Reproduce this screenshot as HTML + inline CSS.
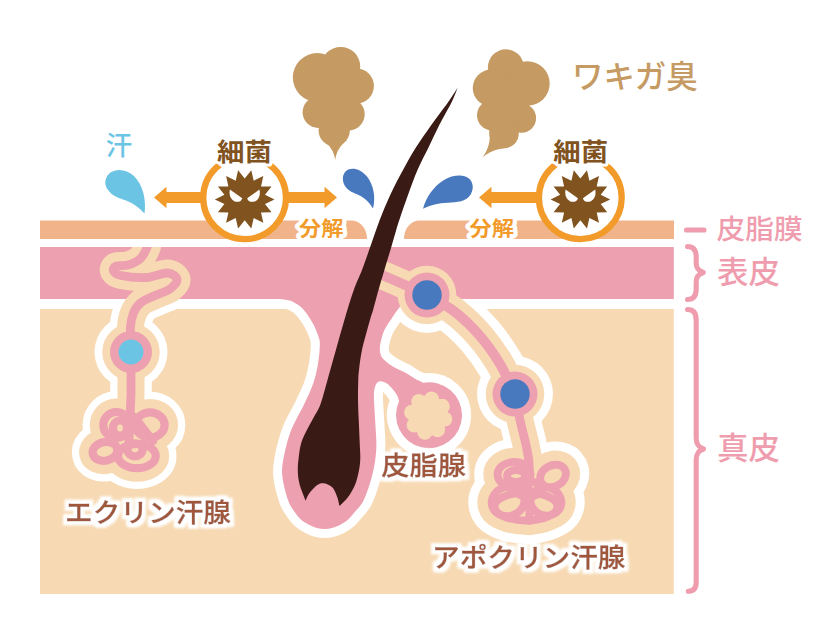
<!DOCTYPE html>
<html lang="ja"><head><meta charset="utf-8"><title>ワキガ臭</title>
<style>
html,body{margin:0;padding:0;background:#fff}
svg{display:block}
text{font-family:"Liberation Sans","Noto Sans CJK JP",sans-serif}
.lbl{font-weight:500;fill:#A0573B;stroke:#A0573B;stroke-width:0.35;filter:url(#glow)}
.bun{font-weight:700;fill:#F29B2B;stroke:#fff;stroke-width:8;stroke-linejoin:round;paint-order:stroke fill}
.saikin{font-weight:700;fill:#80531F;stroke:#fff;stroke-width:6;stroke-linejoin:round;paint-order:stroke fill}
.side{font-weight:500;fill:#EF9DAE}
</style></head><body>
<svg width="840" height="640" viewBox="0 0 840 640">
<rect width="840" height="640" fill="#fff"/>
<defs><filter id="glow" x="-10%" y="-40%" width="120%" height="180%"><feMorphology in="SourceAlpha" operator="dilate" radius="3.7" result="d"/><feGaussianBlur in="d" stdDeviation="0.9" result="b"/><feFlood flood-color="#ffffff" result="f"/><feComposite in="f" in2="b" operator="in" result="o"/><feMerge><feMergeNode in="o"/><feMergeNode in="SourceGraphic"/></feMerge></filter><clipPath id="below"><rect x="0" y="299" width="840" height="341"/></clipPath><clipPath id="skin"><rect x="0" y="247" width="840" height="393"/></clipPath></defs>
<path d="M40 220.5 H351 C360 220.5 367 228 367 239 H40Z" fill="#F0B38A"/><path d="M674 220.5 H420 C411 220.5 404 228 404 239 H674Z" fill="#F0B38A"/><rect x="40" y="309" width="633.8" height="285" fill="#F7DAB4"/><g clip-path="url(#below)"><g fill="#fff" stroke="#fff" stroke-width="18" stroke-linejoin="round" stroke-linecap="round"><path d="M230.0 299.0 C238.3 299.0 268.5 297.9 280.0 299.0 C291.5 300.1 293.7 301.9 299.0 305.6 C304.3 309.3 308.3 316.0 311.6 321.2 C314.9 326.5 317.2 332.7 318.6 336.9 C320.0 341.1 319.9 341.6 319.8 346.2 C319.7 350.9 318.9 358.8 317.8 365.0 C316.7 371.2 315.4 377.1 313.1 383.8 C310.8 390.4 307.4 397.3 303.8 405.0 C300.1 412.7 294.5 421.7 291.2 430.0 C288.0 438.3 285.7 447.5 284.2 455.0 C282.7 462.5 281.6 467.5 282.2 475.0 C282.8 482.5 285.9 493.8 288.0 500.0 C290.1 506.2 292.7 509.1 295.0 512.5 C297.3 515.9 299.4 518.3 302.0 520.5 C304.6 522.7 308.1 524.2 310.6 525.5 C313.1 526.8 314.6 527.4 317.0 528.0 C319.4 528.6 322.2 529.0 324.7 529.0 C327.2 529.0 329.7 528.6 332.0 528.0 C334.3 527.4 336.2 526.8 338.8 525.5 C341.2 524.2 344.4 522.7 347.0 520.5 C349.6 518.3 351.6 515.9 354.4 512.5 C357.2 509.1 360.8 506.2 363.8 500.0 C366.7 493.8 370.2 483.3 372.3 475.0 C374.4 466.7 375.7 458.2 376.2 450.0 C376.8 441.8 375.9 434.3 375.5 426.0 C375.1 417.7 374.2 406.0 374.0 400.0 C373.8 394.0 373.9 392.8 374.3 390.0 C374.7 387.2 375.6 385.0 376.5 383.5 C377.4 382.0 378.8 381.5 380.0 381.2 C381.2 381.0 382.5 381.4 384.0 382.0 C385.5 382.6 386.7 383.0 388.8 385.0 C390.8 387.0 394.5 391.0 396.2 393.8 C398.0 396.5 398.6 400.0 399.1 401.3 A33 33 0 1 0 423.3 382.7 C421.9 382.0 418.0 380.5 415.0 378.8 C412.0 377.0 408.8 374.6 405.0 372.5 C401.2 370.4 396.2 368.5 392.5 366.2 C388.8 364.0 385.1 361.2 383.0 358.8 C380.9 356.2 380.4 354.0 380.0 351.2 C379.6 348.5 379.9 346.0 380.6 342.5 C381.3 339.0 382.5 334.1 384.4 330.0 C386.3 325.9 389.6 321.7 392.0 318.0 C394.4 314.3 396.3 311.2 399.0 308.0 C401.7 304.8 402.8 301.7 408.0 299.0 C413.2 296.3 426.3 293.2 430.0 292.0 L230 292Z"/></g><g fill="none" stroke="#fff" stroke-width="41.5" stroke-linecap="round" stroke-linejoin="round"><path d="M148.0 240.0 C147.8 241.2 148.3 244.3 147.0 247.5 C145.7 250.7 143.2 256.1 140.0 259.0 C136.8 261.9 132.0 263.8 128.0 265.0 C124.0 266.2 118.4 265.0 116.0 266.0 C113.6 267.0 112.7 269.4 113.5 271.0 C114.3 272.6 115.6 274.4 121.0 275.5 C126.4 276.6 138.2 277.9 146.0 277.5 C153.8 277.1 162.3 272.7 167.5 273.0 C172.7 273.3 176.6 276.8 177.0 279.5 C177.4 282.2 173.7 286.3 170.0 289.0 C166.3 291.7 159.8 293.2 155.0 295.5 C150.2 297.8 144.6 299.6 141.0 302.5 C137.4 305.4 135.2 308.9 133.5 313.0 C131.8 317.1 130.9 320.5 130.5 327.0 C130.1 333.5 130.9 347.8 131.0 352.0 L131 395 L129 440"/><path d="M380.0 274.0 C384.2 275.8 397.2 281.5 405.0 285.0 C412.8 288.5 418.7 290.5 427.0 295.0 C435.3 299.5 446.2 305.2 455.0 312.0 C463.8 318.8 472.5 327.3 480.0 336.0 C487.5 344.7 494.2 354.3 500.0 364.0 C505.8 373.7 512.5 389.0 515.0 394.0" stroke-width="46.5"/><path d="M515.0 394.0 C515.8 398.3 518.2 411.5 520.0 420.0 C521.8 428.5 524.5 438.0 526.0 445.0 C527.5 452.0 528.5 457.0 529.0 462.0 C529.5 467.0 529.0 472.8 529.0 475.0"/><g fill="#fff" ><ellipse cx="116.3" cy="425.0" rx="13.0" ry="13.0" transform="rotate(0 116.3 425.0)"/><ellipse cx="120.0" cy="428.0" rx="7.0" ry="7.5" transform="rotate(0 120.0 428.0)"/><ellipse cx="150.0" cy="425.0" rx="14.6" ry="12.6" transform="rotate(0 150.0 425.0)"/><ellipse cx="105.0" cy="451.3" rx="12.5" ry="9.3" transform="rotate(-12 105.0 451.3)"/><ellipse cx="136.9" cy="456.0" rx="18.8" ry="12.2" transform="rotate(0 136.9 456.0)"/><ellipse cx="135.0" cy="449.8" rx="7.5" ry="6.5" transform="rotate(0 135.0 449.8)"/><path d="M134.5 417 L153 441"/><path d="M129.3 420 L128.75 444"/></g><g fill="#fff" stroke-width="46.5"><ellipse cx="514.0" cy="474.5" rx="16.5" ry="12.5" transform="rotate(0 514.0 474.5)"/><ellipse cx="516.0" cy="476.0" rx="9.0" ry="6.0" transform="rotate(0 516.0 476.0)"/><ellipse cx="553.0" cy="476.0" rx="13.5" ry="10.5" transform="rotate(-28 553.0 476.0)"/><ellipse cx="508.0" cy="501.5" rx="16.5" ry="14.5" transform="rotate(-15 508.0 501.5)"/><ellipse cx="546.0" cy="501.5" rx="15.5" ry="14.0" transform="rotate(15 546.0 501.5)"/><ellipse cx="526.0" cy="506.5" rx="31.5" ry="14.0" transform="rotate(0 526.0 506.5)"/><ellipse cx="528.0" cy="489.0" rx="12.0" ry="8.0" transform="rotate(0 528.0 489.0)"/><path d="M528 460 L529.5 521"/></g></g><g fill="#fff"><circle cx="131" cy="352" r="36.5"/><circle cx="427" cy="295" r="38"/><circle cx="515" cy="394" r="38"/></g></g><g fill="#EDA0AF"><rect x="40" y="247" width="633.8" height="52"/><path d="M230.0 299.0 C238.3 299.0 268.5 297.9 280.0 299.0 C291.5 300.1 293.7 301.9 299.0 305.6 C304.3 309.3 308.3 316.0 311.6 321.2 C314.9 326.5 317.2 332.7 318.6 336.9 C320.0 341.1 319.9 341.6 319.8 346.2 C319.7 350.9 318.9 358.8 317.8 365.0 C316.7 371.2 315.4 377.1 313.1 383.8 C310.8 390.4 307.4 397.3 303.8 405.0 C300.1 412.7 294.5 421.7 291.2 430.0 C288.0 438.3 285.7 447.5 284.2 455.0 C282.7 462.5 281.6 467.5 282.2 475.0 C282.8 482.5 285.9 493.8 288.0 500.0 C290.1 506.2 292.7 509.1 295.0 512.5 C297.3 515.9 299.4 518.3 302.0 520.5 C304.6 522.7 308.1 524.2 310.6 525.5 C313.1 526.8 314.6 527.4 317.0 528.0 C319.4 528.6 322.2 529.0 324.7 529.0 C327.2 529.0 329.7 528.6 332.0 528.0 C334.3 527.4 336.2 526.8 338.8 525.5 C341.2 524.2 344.4 522.7 347.0 520.5 C349.6 518.3 351.6 515.9 354.4 512.5 C357.2 509.1 360.8 506.2 363.8 500.0 C366.7 493.8 370.2 483.3 372.3 475.0 C374.4 466.7 375.7 458.2 376.2 450.0 C376.8 441.8 375.9 434.3 375.5 426.0 C375.1 417.7 374.2 406.0 374.0 400.0 C373.8 394.0 373.9 392.8 374.3 390.0 C374.7 387.2 375.6 385.0 376.5 383.5 C377.4 382.0 378.8 381.5 380.0 381.2 C381.2 381.0 382.5 381.4 384.0 382.0 C385.5 382.6 386.7 383.0 388.8 385.0 C390.8 387.0 394.5 391.0 396.2 393.8 C398.0 396.5 398.6 400.0 399.1 401.3 A33 33 0 1 0 423.3 382.7 C421.9 382.0 418.0 380.5 415.0 378.8 C412.0 377.0 408.8 374.6 405.0 372.5 C401.2 370.4 396.2 368.5 392.5 366.2 C388.8 364.0 385.1 361.2 383.0 358.8 C380.9 356.2 380.4 354.0 380.0 351.2 C379.6 348.5 379.9 346.0 380.6 342.5 C381.3 339.0 382.5 334.1 384.4 330.0 C386.3 325.9 389.6 321.7 392.0 318.0 C394.4 314.3 396.3 311.2 399.0 308.0 C401.7 304.8 402.8 301.7 408.0 299.0 C413.2 296.3 426.3 293.2 430.0 292.0 L230 292Z"/></g><g fill="#F7DAB4"><circle cx="428.2" cy="415.7" r="19.7"/><circle cx="444.7" cy="419.0" r="7.6"/><circle cx="437.5" cy="429.7" r="7.6"/><circle cx="424.9" cy="432.2" r="7.6"/><circle cx="414.2" cy="425.0" r="7.6"/><circle cx="411.7" cy="412.4" r="7.6"/><circle cx="418.9" cy="401.7" r="7.6"/><circle cx="431.5" cy="399.2" r="7.6"/><circle cx="442.2" cy="406.4" r="7.6"/></g><g clip-path="url(#skin)"><g fill="none" stroke="#F7DAB4" stroke-width="27" stroke-linecap="round" stroke-linejoin="round"><path d="M148.0 240.0 C147.8 241.2 148.3 244.3 147.0 247.5 C145.7 250.7 143.2 256.1 140.0 259.0 C136.8 261.9 132.0 263.8 128.0 265.0 C124.0 266.2 118.4 265.0 116.0 266.0 C113.6 267.0 112.7 269.4 113.5 271.0 C114.3 272.6 115.6 274.4 121.0 275.5 C126.4 276.6 138.2 277.9 146.0 277.5 C153.8 277.1 162.3 272.7 167.5 273.0 C172.7 273.3 176.6 276.8 177.0 279.5 C177.4 282.2 173.7 286.3 170.0 289.0 C166.3 291.7 159.8 293.2 155.0 295.5 C150.2 297.8 144.6 299.6 141.0 302.5 C137.4 305.4 135.2 308.9 133.5 313.0 C131.8 317.1 130.9 320.5 130.5 327.0 C130.1 333.5 130.9 347.8 131.0 352.0 L131 395 L129 440"/><path d="M380.0 274.0 C384.2 275.8 397.2 281.5 405.0 285.0 C412.8 288.5 418.7 290.5 427.0 295.0 C435.3 299.5 446.2 305.2 455.0 312.0 C463.8 318.8 472.5 327.3 480.0 336.0 C487.5 344.7 494.2 354.3 500.0 364.0 C505.8 373.7 512.5 389.0 515.0 394.0" stroke-width="28.5"/><path d="M515.0 394.0 C515.8 398.3 518.2 411.5 520.0 420.0 C521.8 428.5 524.5 438.0 526.0 445.0 C527.5 452.0 528.5 457.0 529.0 462.0 C529.5 467.0 529.0 472.8 529.0 475.0"/><g fill="#F7DAB4" ><ellipse cx="116.3" cy="425.0" rx="13.0" ry="13.0" transform="rotate(0 116.3 425.0)"/><ellipse cx="120.0" cy="428.0" rx="7.0" ry="7.5" transform="rotate(0 120.0 428.0)"/><ellipse cx="150.0" cy="425.0" rx="14.6" ry="12.6" transform="rotate(0 150.0 425.0)"/><ellipse cx="105.0" cy="451.3" rx="12.5" ry="9.3" transform="rotate(-12 105.0 451.3)"/><ellipse cx="136.9" cy="456.0" rx="18.8" ry="12.2" transform="rotate(0 136.9 456.0)"/><ellipse cx="135.0" cy="449.8" rx="7.5" ry="6.5" transform="rotate(0 135.0 449.8)"/><path d="M134.5 417 L153 441"/><path d="M129.3 420 L128.75 444"/></g><g fill="#F7DAB4" stroke-width="28.5"><ellipse cx="514.0" cy="474.5" rx="16.5" ry="12.5" transform="rotate(0 514.0 474.5)"/><ellipse cx="516.0" cy="476.0" rx="9.0" ry="6.0" transform="rotate(0 516.0 476.0)"/><ellipse cx="553.0" cy="476.0" rx="13.5" ry="10.5" transform="rotate(-28 553.0 476.0)"/><ellipse cx="508.0" cy="501.5" rx="16.5" ry="14.5" transform="rotate(-15 508.0 501.5)"/><ellipse cx="546.0" cy="501.5" rx="15.5" ry="14.0" transform="rotate(15 546.0 501.5)"/><ellipse cx="526.0" cy="506.5" rx="31.5" ry="14.0" transform="rotate(0 526.0 506.5)"/><ellipse cx="528.0" cy="489.0" rx="12.0" ry="8.0" transform="rotate(0 528.0 489.0)"/><path d="M528 460 L529.5 521"/></g></g><g fill="#F7DAB4"><circle cx="131" cy="352" r="28.75"/><circle cx="427" cy="295" r="29.3"/><circle cx="515" cy="394" r="29.3"/></g><g fill="none" stroke="#EDA0AF" stroke-width="8.8" stroke-linecap="round" stroke-linejoin="round"><path d="M148.0 240.0 C147.8 241.2 148.3 244.3 147.0 247.5 C145.7 250.7 143.2 256.1 140.0 259.0 C136.8 261.9 132.0 263.8 128.0 265.0 C124.0 266.2 118.4 265.0 116.0 266.0 C113.6 267.0 112.7 269.4 113.5 271.0 C114.3 272.6 115.6 274.4 121.0 275.5 C126.4 276.6 138.2 277.9 146.0 277.5 C153.8 277.1 162.3 272.7 167.5 273.0 C172.7 273.3 176.6 276.8 177.0 279.5 C177.4 282.2 173.7 286.3 170.0 289.0 C166.3 291.7 159.8 293.2 155.0 295.5 C150.2 297.8 144.6 299.6 141.0 302.5 C137.4 305.4 135.2 308.9 133.5 313.0 C131.8 317.1 130.9 320.5 130.5 327.0 C130.1 333.5 130.9 347.8 131.0 352.0 L131 395 L129 440"/><path d="M380.0 274.0 C384.2 275.8 397.2 281.5 405.0 285.0 C412.8 288.5 418.7 290.5 427.0 295.0 C435.3 299.5 446.2 305.2 455.0 312.0 C463.8 318.8 472.5 327.3 480.0 336.0 C487.5 344.7 494.2 354.3 500.0 364.0 C505.8 373.7 512.5 389.0 515.0 394.0" stroke-width="10"/><path d="M515.0 394.0 C515.8 398.3 518.2 411.5 520.0 420.0 C521.8 428.5 524.5 438.0 526.0 445.0 C527.5 452.0 528.5 457.0 529.0 462.0 C529.5 467.0 529.0 472.8 529.0 475.0"/><g  stroke-width="8.2"><ellipse cx="116.3" cy="425.0" rx="13.0" ry="13.0" transform="rotate(0 116.3 425.0)"/><ellipse cx="120.0" cy="428.0" rx="7.0" ry="7.5" transform="rotate(0 120.0 428.0)"/><ellipse cx="150.0" cy="425.0" rx="14.6" ry="12.6" transform="rotate(0 150.0 425.0)"/><ellipse cx="105.0" cy="451.3" rx="12.5" ry="9.3" transform="rotate(-12 105.0 451.3)"/><ellipse cx="136.9" cy="456.0" rx="18.8" ry="12.2" transform="rotate(0 136.9 456.0)"/><ellipse cx="135.0" cy="449.8" rx="7.5" ry="6.5" transform="rotate(0 135.0 449.8)"/><path d="M134.5 417 L153 441"/><path d="M129.3 420 L128.75 444"/></g><g  stroke-width="7.799999999999999"><ellipse cx="514.0" cy="474.5" rx="16.5" ry="12.5" transform="rotate(0 514.0 474.5)"/><ellipse cx="516.0" cy="476.0" rx="9.0" ry="6.0" transform="rotate(0 516.0 476.0)"/><ellipse cx="553.0" cy="476.0" rx="13.5" ry="10.5" transform="rotate(-28 553.0 476.0)"/><ellipse cx="508.0" cy="501.5" rx="16.5" ry="14.5" transform="rotate(-15 508.0 501.5)"/><ellipse cx="546.0" cy="501.5" rx="15.5" ry="14.0" transform="rotate(15 546.0 501.5)"/><ellipse cx="526.0" cy="506.5" rx="31.5" ry="14.0" transform="rotate(0 526.0 506.5)"/><ellipse cx="528.0" cy="489.0" rx="12.0" ry="8.0" transform="rotate(0 528.0 489.0)"/><path d="M528 460 L529.5 521"/></g></g><g fill="#EDA0AF"><circle cx="131" cy="352" r="21"/><circle cx="427" cy="295" r="22.5"/><circle cx="515" cy="394" r="22.5"/></g></g><circle cx="131" cy="352" r="12.5" fill="#6CC4E5"/><circle cx="427" cy="295" r="14.7" fill="#4878BE"/><circle cx="515" cy="394" r="14.7" fill="#4878BE"/><path d="M457.6 87.7 C456.0 90.2 452.3 96.3 447.9 102.5 C443.5 108.7 436.6 117.5 431.3 125.0 C426.0 132.5 420.6 140.0 415.9 147.5 C411.2 155.0 407.3 162.1 403.0 170.0 C398.7 177.9 394.1 186.7 390.2 195.0 C386.3 203.3 382.9 211.7 379.7 220.0 C376.5 228.3 373.8 236.7 370.9 245.0 C367.9 253.3 364.9 262.5 362.0 270.0 C359.1 277.5 356.7 281.7 353.8 290.0 C350.8 298.3 347.4 310.0 344.4 320.0 C341.4 330.0 338.7 340.0 335.9 350.0 C333.1 360.0 330.1 370.8 327.5 380.0 C324.9 389.2 322.6 398.7 320.2 405.0 C317.8 411.3 315.6 413.8 313.4 418.0 C311.2 422.2 308.9 426.0 306.9 430.0 C304.9 434.0 302.8 437.8 301.5 442.0 C300.2 446.2 299.6 450.3 299.0 455.0 C298.4 459.7 297.7 465.2 297.8 470.0 C297.9 474.8 298.2 478.9 299.5 484.0 C300.8 489.1 304.6 498.0 305.6 500.8 C306.2 499.6 307.1 496.4 309.0 493.8 C310.9 491.1 314.4 486.9 316.9 485.2 C319.4 483.5 321.3 482.9 323.9 483.3 C326.5 483.7 330.3 485.2 332.5 487.5 C334.7 489.8 336.0 493.8 337.2 496.9 C338.4 500.0 339.1 504.5 339.5 506.0 C340.9 504.5 345.5 500.5 348.1 496.9 C350.7 493.3 353.4 488.8 355.2 484.4 C357.0 480.0 358.1 474.7 359.0 470.3 C359.9 465.9 360.2 462.0 360.3 457.8 C360.4 453.6 360.0 450.3 359.8 445.0 C359.6 439.7 359.3 433.5 359.0 426.0 C358.7 418.5 358.1 407.7 358.0 400.0 C357.9 392.3 358.1 385.0 358.3 380.0 C358.5 375.0 358.4 375.0 359.0 370.0 C359.6 365.0 360.2 358.3 362.0 350.0 C363.8 341.7 368.1 326.7 370.0 320.0 C371.9 313.3 371.7 315.0 373.1 310.0 C374.5 305.0 376.6 296.7 378.5 290.0 C380.4 283.3 382.3 277.0 384.4 270.0 C386.5 263.0 389.0 254.7 391.0 248.0 C393.0 241.3 394.8 235.0 396.2 230.0 C397.8 225.0 398.0 223.8 400.0 218.0 C402.0 212.2 405.1 203.0 408.0 195.0 C410.9 187.0 414.1 177.9 417.5 170.0 C420.9 162.1 424.9 155.0 428.5 147.5 C432.1 140.0 435.5 132.5 439.3 125.0 C443.1 117.5 448.4 108.7 451.5 102.5 C454.6 96.3 456.6 90.2 457.6 87.7Z" fill="#3A1A15"/><g fill="#C59A63"><circle cx="317.2" cy="77.5" r="24.4"/><circle cx="340.7" cy="66.4" r="19.5"/><circle cx="356.3" cy="86" r="17.6"/><circle cx="318.2" cy="112.3" r="15.6"/><circle cx="348.5" cy="114.2" r="16.2"/><circle cx="334.2" cy="130.5" r="15.6"/><circle cx="335" cy="95" r="25"/><path d="M323 140 C330 146 334 151 335.2 160 C336.6 151 340 146 347 140Z"/><circle cx="505.9" cy="67.3" r="18"/><circle cx="527.4" cy="83.5" r="22.3"/><circle cx="491.25" cy="88" r="18.5"/><circle cx="492.2" cy="115.2" r="15.2"/><circle cx="521.5" cy="118.1" r="14.6"/><circle cx="504" cy="133.5" r="14.8"/><circle cx="508" cy="100" r="22"/><path d="M489.5 128 C491 142 488 150 482.3 157.5 C490 151 497 149 506 148Z"/></g><path d="M144.5 213.5 C146.5 200 143 185 134 176 C127 169.5 117 168 110.5 172.5 C105 176.5 103.5 184 108 190 C112 196 120 198.5 126 200.5 C133 203 139 207.5 144.5 213.5Z" fill="#6CC4E5"/><path d="M373 208.5 C376 197 373.5 185 367 176.5 C360.5 168.5 351 166.5 346 171 C341.5 175 342 183 346.5 188 C350.5 192.5 356.5 193.5 361.5 196.5 C366.5 199.5 370 203.5 373 208.5Z" fill="#4878BE"/><path d="M423 208.8 C426 197 434 186 444 180 C453.5 174.5 465 174 470 179.5 C474.5 184.5 473.5 193.5 467 198.5 C460 203.5 449.5 202 441 203.3 C433.5 204.5 428 206 423 208.8Z" fill="#4878BE"/><g fill="#F29B2B"><path d="M154 197.5 L166.5 186.7 L166.5 192.1 L205 192.1 L205 202.9 L166.5 202.9 L166.5 208.3Z"/><path d="M337 197.5 L324.5 186.7 L324.5 192.1 L285 192.1 L285 202.9 L324.5 202.9 L324.5 208.3Z"/><path d="M479 197.5 L491.5 186.7 L491.5 192.1 L540 192.1 L540 202.9 L491.5 202.9 L491.5 208.3Z"/></g><circle cx="244.6" cy="197.8" r="41.4" fill="#fff" stroke="#F29B2B" stroke-width="6.3"/><polygon points="251.3,170.3 253.7,180.7 263.3,176.1 261.0,186.4 271.5,186.5 265.0,194.8 274.5,199.4 265.0,204.0 271.5,212.3 261.0,212.4 263.3,222.7 253.7,218.1 251.3,228.5 244.7,220.2 238.1,228.5 235.7,218.1 226.1,222.7 228.4,212.4 217.9,212.3 224.4,204.0 214.9,199.4 224.4,194.8 217.9,186.5 228.4,186.4 226.1,176.1 235.7,180.7 238.1,170.3 244.7,178.6" fill="#80531F"/><path d="M229.9 189.6 l12.3 8.6 c-0.5 3 -4 4.5 -7.5 3.2 c-4 -1.5 -6 -6.5 -4.8 -11.8Z" fill="#fff"/><path d="M259.5 189.6 l-12.3 8.6 c0.5 3 4 4.5 7.5 3.2 c4 -1.5 6 -6.5 4.8 -11.8Z" fill="#fff"/><circle cx="580.3" cy="197.8" r="41.4" fill="#fff" stroke="#F29B2B" stroke-width="6.3"/><polygon points="587.0,170.3 589.4,180.7 599.0,176.1 596.7,186.4 607.2,186.5 600.7,194.8 610.2,199.4 600.7,204.0 607.2,212.3 596.7,212.4 599.0,222.7 589.4,218.1 587.0,228.5 580.4,220.2 573.8,228.5 571.4,218.1 561.8,222.7 564.1,212.4 553.6,212.3 560.1,204.0 550.6,199.4 560.1,194.8 553.6,186.5 564.1,186.4 561.8,176.1 571.4,180.7 573.8,170.3 580.4,178.6" fill="#80531F"/><path d="M565.6 189.6 l12.3 8.6 c-0.5 3 -4 4.5 -7.5 3.2 c-4 -1.5 -6 -6.5 -4.8 -11.8Z" fill="#fff"/><path d="M595.2 189.6 l-12.3 8.6 c0.5 3 4 4.5 7.5 3.2 c4 -1.5 6 -6.5 4.8 -11.8Z" fill="#fff"/><text class="saikin" x="217.0" y="161.4" font-size="25.0" textLength="55" lengthAdjust="spacingAndGlyphs">細菌</text><text class="saikin" x="553.3" y="161.4" font-size="25.0" textLength="55" lengthAdjust="spacingAndGlyphs">細菌</text><text class="bun" x="299" y="235.6" font-size="20.4" textLength="44.4" lengthAdjust="spacingAndGlyphs">分解</text><text class="bun" x="469.6" y="235.6" font-size="20.4" textLength="44.4" lengthAdjust="spacingAndGlyphs">分解</text><text x="105.8" y="154.8" font-size="26.5" font-weight="500" fill="#6CC4E5">汗</text><text x="572" y="88.3" font-size="31.4" font-weight="500" fill="#C59A63">ワキガ臭</text><text class="lbl" x="65" y="521.8" font-size="26.2" textLength="166" lengthAdjust="spacingAndGlyphs">エクリン汗腺</text><text class="lbl" x="381.3" y="474.8" font-size="26.2" textLength="84.6" lengthAdjust="spacingAndGlyphs">皮脂腺</text><text class="lbl" x="432" y="567.3" font-size="26.2" textLength="193.5" lengthAdjust="spacingAndGlyphs">アポクリン汗腺</text><text class="side" x="716.6" y="238.9" font-size="26.9" textLength="86.2" lengthAdjust="spacingAndGlyphs">皮脂膜</text><text class="side" x="717" y="283.2" font-size="30.2" textLength="63" lengthAdjust="spacingAndGlyphs">表皮</text><text class="side" x="717" y="459" font-size="30.2" textLength="63" lengthAdjust="spacingAndGlyphs">真皮</text><g fill="none" stroke="#EF9DAE" stroke-width="5.1" stroke-linecap="round" stroke-linejoin="round"><path d="M686.5 230 H704"/><path d="M687.5 246.5 C693.5 246.5 696.2 250 696.2 257 V263 C696.2 268 698 270.5 703.2 272.5 C698 274.5 696.2 277 696.2 282 V289 C696.2 296 693.5 299.5 687.5 299.5"/><path d="M687.5 309.5 C693.5 309.5 696.2 313 696.2 320 V438 C696.2 444 698 447 703.5 449 C698 451 696.2 454 696.2 460 V582 C696.2 588.5 693.5 591.3 688.3 591.3"/></g></svg></body></html>
